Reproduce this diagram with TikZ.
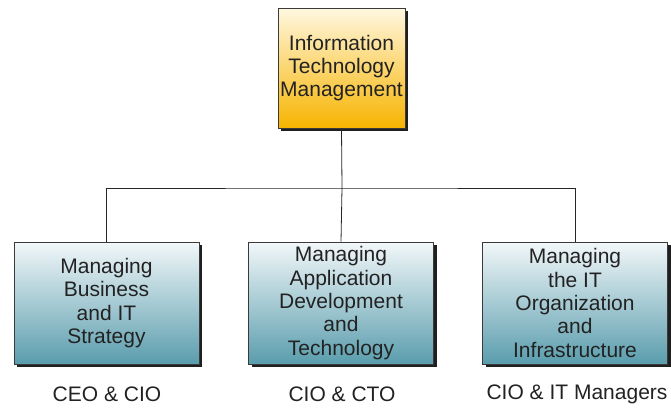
\documentclass[tikz,border=0pt]{standalone}
\usepackage{fontspec}
\setmainfont{Liberation Sans}
\usetikzlibrary{shadows}
\definecolor{boxline}{HTML}{3A3A3A}
\definecolor{goldtop}{HTML}{FFF7E0}
\definecolor{goldbot}{HTML}{F7B400}
\definecolor{tealtop}{HTML}{F2F7F9}
\definecolor{tealbot}{HTML}{5A9DAD}
\definecolor{inktext}{HTML}{222222}
\tikzset{
  unitbox/.style={draw=boxline, line width=0.8pt, inner sep=0pt, align=center,
    text=inktext, font=\fontsize{21}{23.3}\selectfont,
    general shadow={fill=black!88, shadow xshift=3pt, shadow yshift=-3pt}},
  mgmtbox/.style={unitbox, minimum width=127pt, minimum height=120pt,
    shading=axis, top color=goldtop, bottom color=goldbot},
  areabox/.style={unitbox, minimum width=185pt, minimum height=122pt,
    shading=axis, top color=tealtop, bottom color=tealbot},
  rolelabel/.style={text=inktext, font=\fontsize{21}{23.3}\selectfont},
  link/.style={draw=black!85, line width=0.8pt}
}
\begin{document}
\begin{tikzpicture}[x=1pt,y=1pt]
  \useasboundingbox (0,0) rectangle (671,-407);
  \node[mgmtbox] (itm) at (341.5,-68) {Information\\Technology\\Management};
  \node[areabox] (strat) at (106.5,-303) {Managing\\Business\\and IT\\Strategy};
  \node[areabox] (app) at (341,-303) {Managing\\Application\\Development\\and\\Technology};
  \node[areabox] (infra) at (575,-303) {Managing\\the IT\\Organization\\and\\Infrastructure};
  \node[rolelabel] (r1) at (107,-394) {CEO \& CIO};
  \node[rolelabel] (r2) at (342,-394) {CIO \& CTO};
  \node[rolelabel] (r3) at (577,-394) {CIO \& IT Managers};
  \coordinate (hub) at (342,-188);
  \path[link] (itm.south) -- (hub) -- (app.north);
  \path[link] (strat.north) |- (hub) -| (infra.north);
\end{tikzpicture}
\end{document}
